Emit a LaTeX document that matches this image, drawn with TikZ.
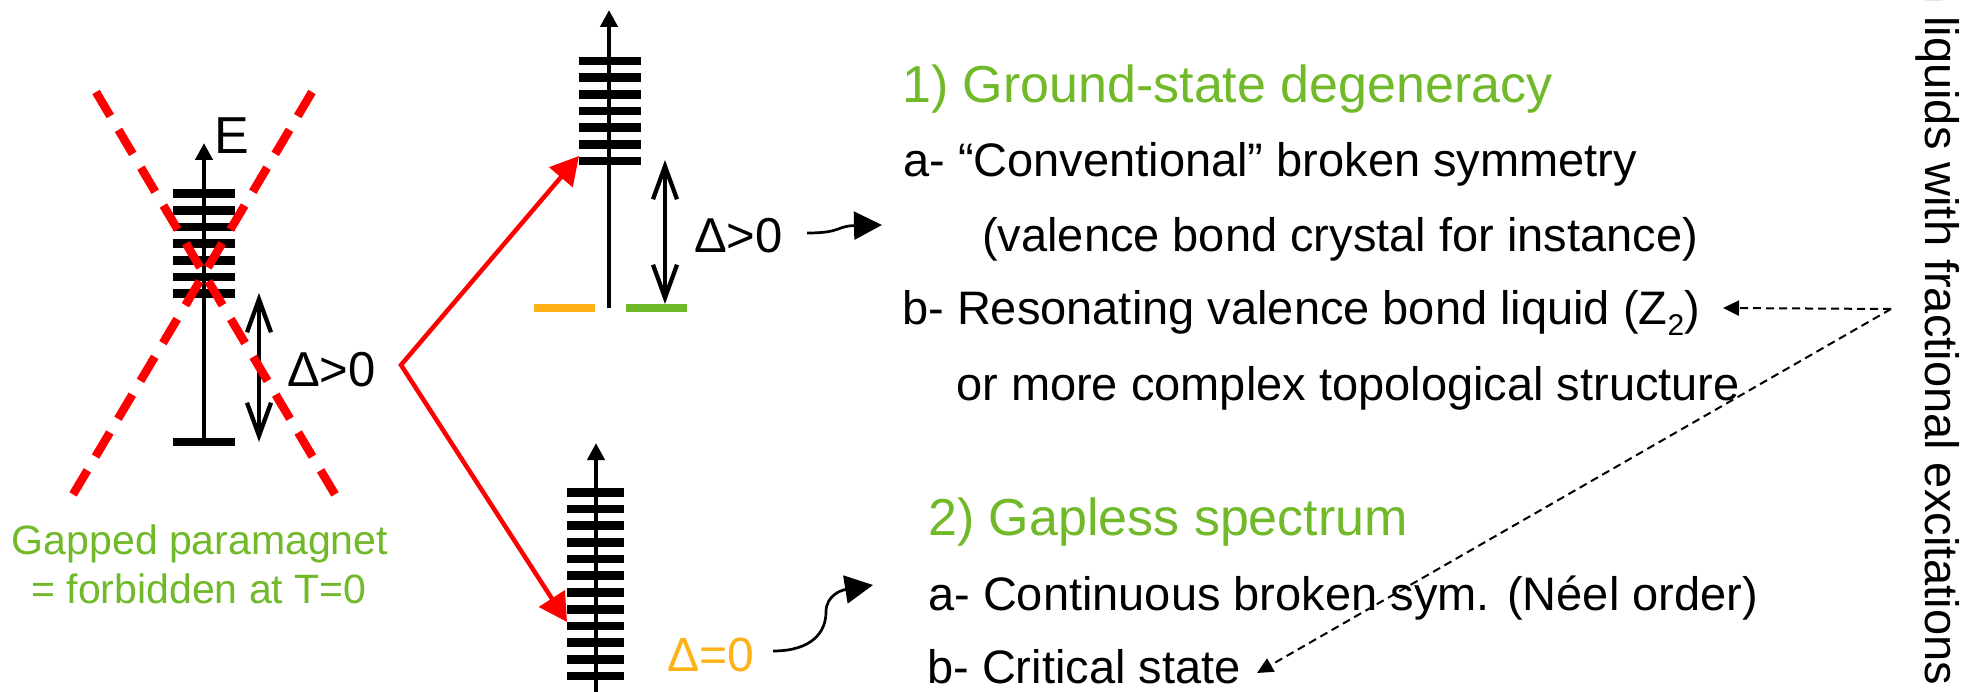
\documentclass[tikz,border=0pt]{standalone}
\usepackage{fontspec}
\setmainfont{Liberation Sans}
\usetikzlibrary{arrows.meta}
\definecolor{pgreen}{RGB}{112,185,40}
\definecolor{porange}{RGB}{255,178,23}
\begin{document}
\begin{tikzpicture}[x=1pt,y=-1pt,
  txt/.style={inner sep=0pt, anchor=base west, font=\fontsize{47}{56}\selectfont},
  head/.style={txt, text=pgreen, font=\fontsize{52}{62}\selectfont},
  axisline/.style={line width=4.3pt, -{Triangle[length=17pt,width=17pt]}},
  level/.style={line width=8.7pt},
  gaparrow/.style={line width=4.3pt, {Straight Barb[length=33pt,width=24pt]}-{Straight Barb[length=33pt,width=24pt]}},
  redx/.style={red, line width=8.5pt, dash pattern=on 28pt off 16pt},
  branch/.style={red, line width=4.5pt, line join=miter, {Triangle[length=28pt,width=30pt]}-{Triangle[length=28pt,width=30pt]}},
  curly/.style={line width=2.7pt, -{Triangle[length=28pt,width=28pt]}},
  link/.style={line width=2pt, dash pattern=on 8pt off 5pt, -{Triangle[length=16pt,width=15pt]}},
]
\fill[white] (0,0) rectangle (1977,692);
\useasboundingbox (0,0) rectangle (1977,692);

% ---------- left spectrum (gapped paramagnet) ----------
\coordinate (Lbot) at (204,442);
\coordinate (Ltop) at (204,143);
\draw[axisline] (Lbot) -- (Ltop);
\foreach \k in {0,...,6} \draw[level] (173,{193.7+16.67*\k}) -- (235,{193.7+16.67*\k});
\draw[level] (173,442) -- (235,442);
\coordinate (Lg1) at (259,293);
\coordinate (Lg2) at (259,442);
\draw[gaparrow] (Lg1) -- (Lg2);
\node[txt, font=\fontsize{52}{62}\selectfont] (E) at (214,154) {E};
\node[txt, font=\fontsize{49}{58}\selectfont] (dL) at (287,386) {Δ>0};
% red cross
\coordinate (x1a) at (96,92);
\coordinate (x1b) at (343,508);
\coordinate (x2a) at (312,92);
\coordinate (x2b) at (65,508);
\draw[redx] (x1a) -- (x1b);
\draw[redx] (x2a) -- (x2b);
\node[txt, anchor=base, text=pgreen, font=\fontsize{41}{49}\selectfont] (gp1) at (200,554) {Gapped paramagnet};
\node[txt, anchor=base, text=pgreen, font=\fontsize{41}{49}\selectfont] (gp2) at (199,603) {= forbidden at T=0};

% ---------- red branching arrows ----------
\coordinate (fork) at (401,365);
\coordinate (rT) at (579,156);
\coordinate (rB) at (567,622);
\draw[branch] (rT) -- (fork) -- (rB);

% ---------- middle top spectrum ----------
\coordinate (Mbot) at (609,308);
\coordinate (Mtop) at (609,10);
\draw[axisline] (Mbot) -- (Mtop);
\foreach \k in {0,...,6} \draw[level] (579,{61+16.67*\k}) -- (641,{61+16.67*\k});
\draw[level, porange] (534,308) -- (595,308);
\draw[level, pgreen] (626,308) -- (687,308);
\coordinate (Mg1) at (665,160);
\coordinate (Mg2) at (665,304);
\draw[gaparrow] (Mg1) -- (Mg2);
\node[txt, font=\fontsize{49}{58}\selectfont] (dM) at (694,253) {Δ>0};
\coordinate (c1s) at (807,233);
\coordinate (c1e) at (882,225);
\draw[curly] (c1s) .. controls (842,233) and (836,226) .. (c1e);

% ---------- bottom spectrum ----------
\coordinate (Bbot) at (596,692);
\coordinate (Btop) at (596,443);
\draw[axisline] (Bbot) -- (Btop);
\foreach \k in {0,...,11} \draw[level] (567,{492.3+16.7*\k}) -- (624,{492.3+16.7*\k});
\node[txt, text=porange, font=\fontsize{48}{58}\selectfont] (d0) at (667,671) {Δ=0};
\coordinate (c2s) at (773,651);
\coordinate (c2e) at (873,585);
\draw[curly] (c2s) .. controls (812,651) and (826,632) .. (826,612) .. controls (826,595) and (842,590) .. (c2e);

% ---------- text column ----------
\node[head] (t1) at (902,103) {1) Ground-state degeneracy};
\node[txt] (a1) at (903,177) {a- “Conventional” broken symmetry};
\node[txt] (a2) at (982,252) {(valence bond crystal for instance)};
\node[txt] (b1) at (902,325) {b- Resonating valence bond liquid (Z\raisebox{-11pt}{\fontsize{30}{36}\selectfont 2})};
\node[txt] (b2) at (956,400) {or more complex topological structure};
\node[head] (t2) at (928,535) {2) Gapless spectrum};
\node[txt] (c1) at (928,610) {a- Continuous broken sym. (Néel order)};
\node[txt] (c2) at (927,683) {b- Critical state};

% ---------- dashed links ----------
\coordinate (src) at (1891,309);
\coordinate (zTip) at (1723,308);
\coordinate (cTip) at (1257,673);
\draw[link] (src) -- (zTip);
\draw[link] (src) -- (cTip);

% ---------- side label ----------
\begin{scope}
\clip (0,0) rectangle (1977,692);
\node[txt, rotate=-90] (side) at (1925,-23) {n liquids with fractional excitations};
\end{scope}
\end{tikzpicture}
\end{document}
